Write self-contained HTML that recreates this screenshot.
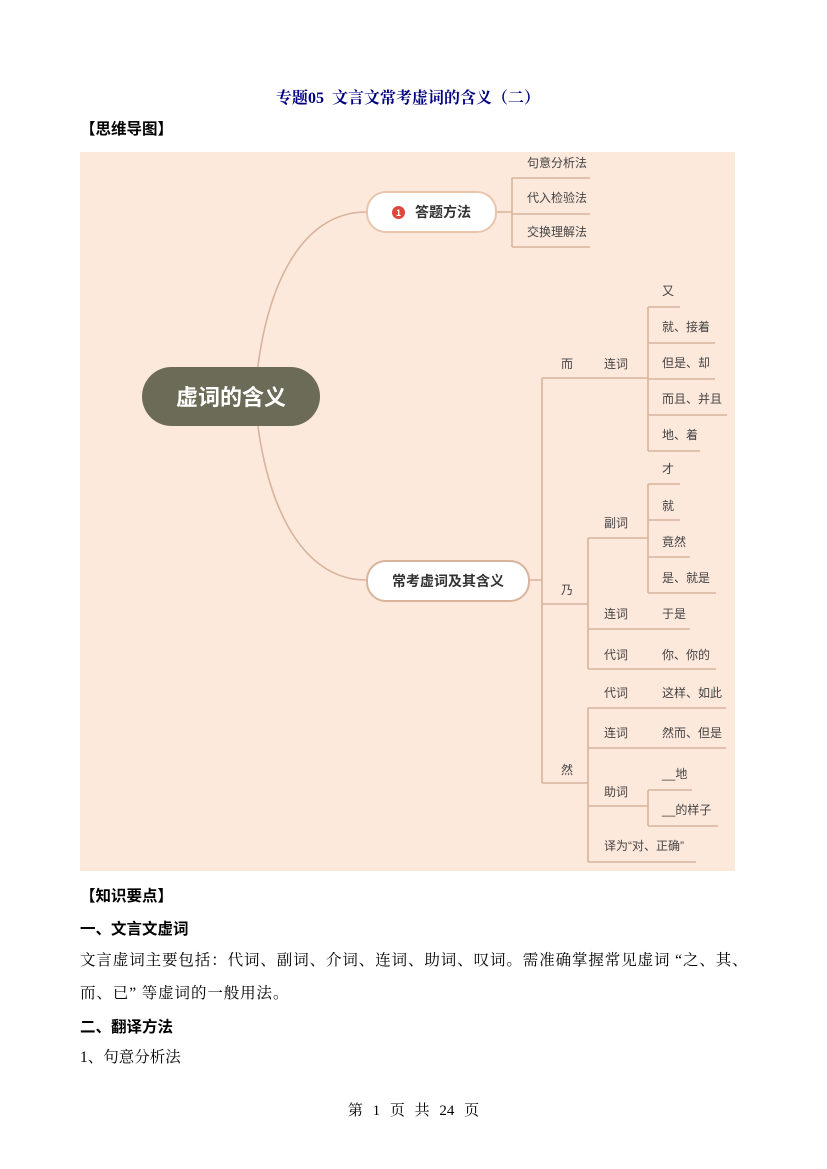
<!DOCTYPE html>
<html><head><meta charset="utf-8"><style>
body{margin:0;background:#fff;width:827px;height:1169px;position:relative;font-family:"Liberation Serif","Noto Serif CJK SC",serif;color:#000;overflow:hidden}
.a{position:absolute;white-space:nowrap}
.t{font-family:"Liberation Sans","Noto Sans CJK SC",sans-serif;font-size:12px;color:#444;line-height:16px}
.p{font-size:15.5px;line-height:20px}
</style></head><body>
<div class="a" style="left:276px;top:85px;font-size:16px;color:#000080;font-weight:bold">专题05&nbsp; 文言文常考虚词的含义（二）</div>
<div class="a p" style="left:80px;top:118px;font-weight:bold;font-family:'Noto Sans CJK SC',sans-serif">【思维导图】</div>
<div class="a" style="left:80px;top:152px;width:655px;height:719px;background:#fde8dc"></div>
<svg class="a" style="left:0;top:0" width="827" height="1169" fill="none" stroke="#d8b49c" stroke-width="1.6">
<path d="M255 396 C262 290 300 212 366 212"/>
<path d="M255 396 C262 500 300 580 366 580"/>
<path d="M497 212 H512 M512 178 V247 M512 178 H590 M512 214 H590 M512 247 H590" />
<path d="M530 580 H542 M542 378 V783 M542 378 H648 M648 307 V451 M648 307 H680 M648 343 H715 M648 379 H715 M648 415 H727 M648 451 H700"/>
<path d="M542 604 H588 M588 538 V669 M588 538 H648 M648 484 V593 M648 484 H680 M648 520 H680 M648 557 H690 M648 593 H716 M588 629 H690 M588 669 H716"/>
<path d="M542 783 H588 M588 708 V862 M588 708 H726 M588 748 H726 M588 806 H648 M648 790 V826 M648 790 H692 M648 826 H718 M588 862 H696"/>
</svg>
<div class="a" style="left:142px;top:367px;width:178px;height:59px;border-radius:30px;background:#6b6b57;color:#fff;font-family:'Noto Sans CJK SC',sans-serif;font-size:22px;font-weight:bold;line-height:59px;text-align:center">虚词的含义</div>
<div class="a" style="left:366px;top:191px;width:127px;height:38px;border:2px solid #e8c6ae;border-radius:20px;background:#fff;font-family:'Noto Sans CJK SC',sans-serif;font-size:14px;font-weight:bold;line-height:38px;text-align:center;color:#333"><span style="display:inline-block;width:13px;height:13px;border-radius:50%;background:#e0463c;color:#fff;font-size:9px;line-height:13px;vertical-align:1px;margin-right:10px">1</span>答题方法</div>
<div class="a" style="left:366px;top:560px;width:160px;height:38px;border:2px solid #d8b49c;border-radius:20px;background:#fff;font-family:'Noto Sans CJK SC',sans-serif;font-size:14px;font-weight:bold;line-height:38px;text-align:center;color:#333">常考虚词及其含义</div>
<div class="a t" style="left:527px;top:155px">句意分析法</div>
<div class="a t" style="left:527px;top:190px">代入检验法</div>
<div class="a t" style="left:527px;top:224px">交换理解法</div>
<div class="a t" style="left:561px;top:356px">而</div>
<div class="a t" style="left:604px;top:356px">连词</div>
<div class="a t" style="left:662px;top:283px">又</div>
<div class="a t" style="left:662px;top:319px">就、接着</div>
<div class="a t" style="left:662px;top:355px">但是、却</div>
<div class="a t" style="left:662px;top:391px">而且、并且</div>
<div class="a t" style="left:662px;top:427px">地、着</div>
<div class="a t" style="left:561px;top:582px">乃</div>
<div class="a t" style="left:604px;top:515px">副词</div>
<div class="a t" style="left:662px;top:461px">才</div>
<div class="a t" style="left:662px;top:498px">就</div>
<div class="a t" style="left:662px;top:534px">竟然</div>
<div class="a t" style="left:662px;top:570px">是、就是</div>
<div class="a t" style="left:604px;top:606px">连词</div>
<div class="a t" style="left:662px;top:606px">于是</div>
<div class="a t" style="left:604px;top:647px">代词</div>
<div class="a t" style="left:662px;top:647px">你、你的</div>
<div class="a t" style="left:561px;top:762px">然</div>
<div class="a t" style="left:604px;top:685px">代词</div>
<div class="a t" style="left:662px;top:685px">这样、如此</div>
<div class="a t" style="left:604px;top:725px">连词</div>
<div class="a t" style="left:662px;top:725px">然而、但是</div>
<div class="a t" style="left:604px;top:784px">助词</div>
<div class="a t" style="left:662px;top:766px">__地</div>
<div class="a t" style="left:662px;top:802px">__的样子</div>
<div class="a t" style="left:604px;top:838px">译为“对、正确”</div>
<div class="a p" style="left:80px;top:885px;font-weight:bold;font-family:'Noto Sans CJK SC',sans-serif">【知识要点】</div>
<div class="a p" style="left:80px;top:918px;font-weight:bold;font-family:'Noto Sans CJK SC',sans-serif">一、文言文虚词</div>
<div class="a p" style="left:80px;top:951px;letter-spacing:0.9px">文言虚词主要包括：代词、副词、介词、连词、助词、叹词。需准确掌握常见虚词 “之、其、</div>
<div class="a p" style="left:80px;top:984px;letter-spacing:0.9px">而、已” 等虚词的一般用法。</div>
<div class="a p" style="left:80px;top:1016px;font-weight:bold;font-family:'Noto Sans CJK SC',sans-serif">二、翻译方法</div>
<div class="a p" style="left:80px;top:1048px">1、句意分析法</div>
<div class="a" style="left:0;width:827px;top:1099px;text-align:center;font-size:15px;word-spacing:6px">第 1 页 共 24 页</div>
</body></html>
